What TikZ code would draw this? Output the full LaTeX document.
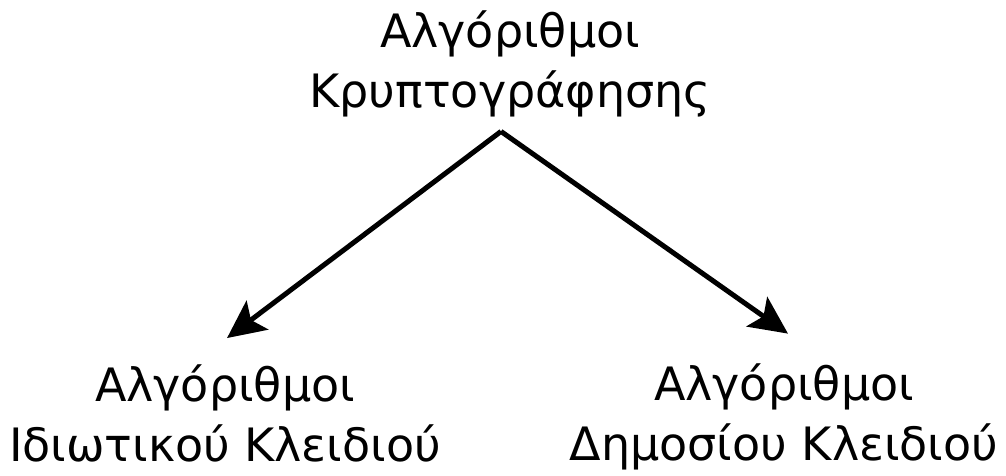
\documentclass[tikz,border=0pt]{standalone}
\usepackage{fontspec}
\setmainfont{DejaVu Sans}
\usetikzlibrary{arrows.meta,positioning,calc}
\definecolor{fg}{HTML}{000000}
\definecolor{stroke}{HTML}{000000}

\begin{document}
\begin{tikzpicture}[
  x=1pt,y=-1pt,
  every node/.append style={text=fg},
  algo/.style={align=center, inner sep=0pt, font=\fontsize{46}{60}\selectfont},
  link/.style={-{Stealth[length=38pt,width=36pt,inset=8pt]}, draw=stroke, line width=5pt},
]
\useasboundingbox (0,0) rectangle (1006,476);
% root
\node[algo] (root) at (510,64) {Αλγόριθμοι\\Κρυπτογράφησης};
% the two families
\node[algo] (priv) at (225,413) {Αλγόριθμοι\\Ιδιωτικού Κλειδιού};
\node[algo] (pub) at (784,417) {Αλγόριθμοι\\Δημοσίου Κλειδιού};
% split point below the root, tips above the families
\coordinate (apex) at ($(root.south)+(-9,14)$);
\coordinate (privtip) at ($(priv.north)+(2,-26)$);
\coordinate (pubtip) at ($(pub.north)+(4,-30)$);
% flows
\draw[link] (apex) -- (privtip);
\draw[link] (apex) -- (pubtip);
\end{tikzpicture}
\end{document}
